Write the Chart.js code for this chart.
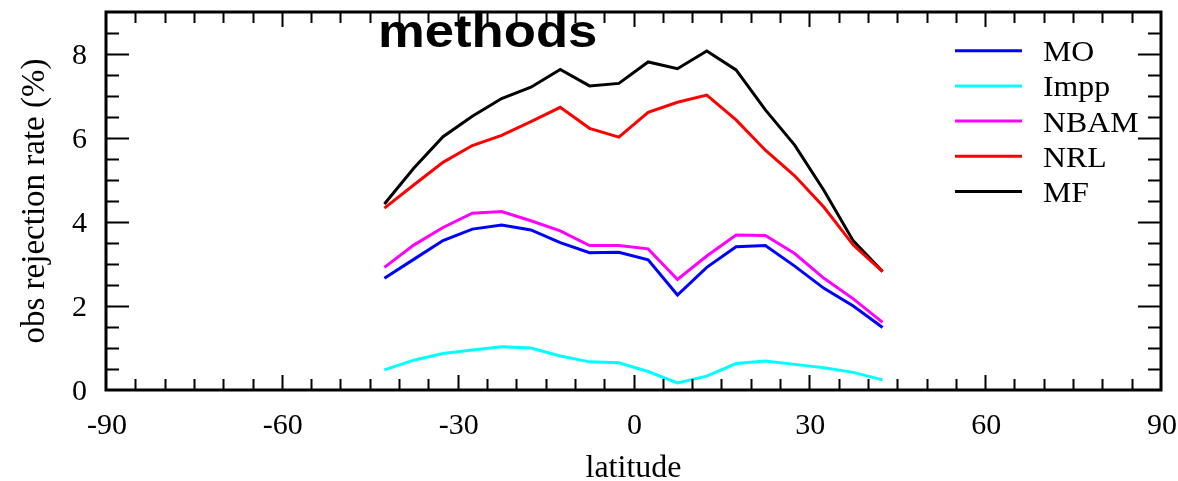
<!DOCTYPE html>
<html><head><meta charset="utf-8">
<script src="https://cdn.jsdelivr.net/npm/chart.js@4.4.0/dist/chart.umd.min.js"></script>
<style>html,body{margin:0;padding:0;background:#fff;overflow:hidden}</style>
</head><body>
<canvas id="c" width="1178" height="481" style="display:block;width:1178px;height:481px"></canvas>
<script>
const latitudes = [-42.5,-37.5,-32.5,-27.5,-22.5,-17.5,-12.5,-7.5,-2.5,2.5,7.5,12.5,17.5,22.5,27.5,32.5,37.5,42.5];
const MO   = [2.66,3.11,3.56,3.83,3.93,3.81,3.51,3.27,3.28,3.10,2.26,2.92,3.41,3.44,2.95,2.42,2.00,1.49];
const Impp = [0.48,0.71,0.87,0.95,1.03,1.00,0.81,0.67,0.65,0.44,0.17,0.33,0.63,0.69,0.61,0.53,0.42,0.24];
const NBAM = [2.92,3.45,3.87,4.21,4.25,4.03,3.79,3.44,3.44,3.36,2.63,3.19,3.69,3.68,3.25,2.66,2.17,1.61];
const NRL  = [4.33,4.88,5.42,5.82,6.06,6.39,6.73,6.23,6.02,6.61,6.85,7.02,6.43,5.71,5.10,4.35,3.45,2.82];
const MF   = [4.43,5.28,6.03,6.52,6.94,7.21,7.63,7.24,7.30,7.81,7.65,8.07,7.62,6.67,5.83,4.75,3.55,2.82];
const seriesNames = ['MO','Impp','NBAM','NRL','MF'];
const seriesValues = [MO, Impp, NBAM, NRL, MF];
const seriesColors = ['#0000ff','#00ffff','#ff00ff','#ff0000','#000000'];
const xTickValues = [-90,-60,-30,0,30,60,90];
const yTickValues = [0,2,4,6,8];
const xRange = [-90, 90];
const yRange = [0, 9];
const xMinorStep = 5;
const yMinorStep = 0.5;
const titleText = 'methods';
const xTitle = 'latitude';
const yTitle = 'obs rejection rate (%)';

const datasets = seriesNames.map((n,i)=>({
  label: n,
  data: latitudes.map((x,j)=>({x:x, y:seriesValues[i][j]})),
  borderColor: seriesColors[i],
  backgroundColor: seriesColors[i],
  borderWidth: 3,
  pointRadius: 0,
  tension: 0,
  fill: false
}));

const serif = "'Liberation Serif','DejaVu Serif',serif";

const framePlugin = {
  id: 'frame',
  afterDraw(chart) {
    const ctx = chart.ctx;
    const a = chart.chartArea;
    const xs = chart.scales.x, ys = chart.scales.y;
    ctx.save();
    ctx.strokeStyle = '#000';
    ctx.lineWidth = 2;
    ctx.beginPath();
    for (let v = xRange[0]; v <= xRange[1] + 1e-9; v += xMinorStep) {
      if (v === xRange[0] || v === xRange[1]) continue;
      const major = xTickValues.includes(v);
      const len = major ? 15 : 11;
      const px = Math.round(xs.getPixelForValue(v)) + 0.5;
      ctx.moveTo(px, a.bottom); ctx.lineTo(px, a.bottom - len);
      ctx.moveTo(px, a.top); ctx.lineTo(px, a.top + len);
    }
    for (let v = yRange[0]; v <= yRange[1] + 1e-9; v += yMinorStep) {
      if (v === yRange[0] || v === yRange[1]) continue;
      const major = yTickValues.includes(v);
      const len = major ? 23 : 13;
      const py = Math.round(ys.getPixelForValue(v)) + 0.5;
      ctx.moveTo(a.left, py); ctx.lineTo(a.left + len, py);
      ctx.moveTo(a.right, py); ctx.lineTo(a.right - len, py);
    }
    ctx.stroke();
    ctx.lineWidth = 3;
    ctx.strokeRect(a.left, a.top, a.right - a.left, a.bottom - a.top);

    const rowY0 = 50.7, rowDy = 35.2;
    chart.data.datasets.forEach((ds, i) => {
      const y = rowY0 + i * rowDy;
      ctx.strokeStyle = ds.borderColor;
      ctx.lineWidth = 3;
      ctx.beginPath();
      ctx.moveTo(955, y); ctx.lineTo(1022, y);
      ctx.stroke();
      ctx.fillStyle = '#000';
      ctx.font = "30px " + serif;
      ctx.textBaseline = 'alphabetic';
      ctx.textAlign = 'left';
      ctx.save();
      ctx.translate(1043, y + 10.5);
      ctx.scale(1.06, 1);
      ctx.fillText(ds.label, 0, 0);
      ctx.restore();
    });

    ctx.save();
    ctx.fillStyle = '#000';
    ctx.font = "bold 47px 'Liberation Sans', Arial, sans-serif";
    ctx.textBaseline = 'alphabetic';
    ctx.textAlign = 'left';
    ctx.translate(378, 47);
    ctx.scale(1.12, 1);
    ctx.fillText(titleText, 0, 0);
    ctx.restore();
    ctx.restore();
  }
};

new Chart(document.getElementById('c'), {
  type: 'line',
  data: { datasets },
  options: {
    responsive: false,
    animation: false,
    devicePixelRatio: 1,
    layout: { padding: { top: 12, right: 17, left: 0, bottom: 0 } },
    plugins: { legend: { display: false }, tooltip: { enabled: false } },
    scales: {
      x: {
        type: 'linear',
        min: xRange[0], max: xRange[1],
        grid: { display: false, drawTicks: false },
        border: { display: false },
        ticks: { color: '#000', font: { family: serif, size: 30 }, padding: 18, labelOffset: 1, maxRotation: 0, autoSkip: false, includeBounds: false },
        afterBuildTicks(scale) { scale.ticks = xTickValues.map(v => ({ value: v })); },
        afterFit(scale) { scale.height = 91; scale.paddingLeft = 0; scale.paddingRight = 0; },
        title: { display: true, text: xTitle, color: '#000', font: { family: serif, size: 32, lineHeight: 1 }, padding: { top: 0, bottom: -4 } }
      },
      y: {
        type: 'linear',
        min: yRange[0], max: yRange[1],
        grid: { display: false, drawTicks: false },
        border: { display: false },
        ticks: { color: '#000', font: { family: serif, size: 30 }, padding: 19, labelOffset: 2, includeBounds: false },
        afterBuildTicks(scale) { scale.ticks = yTickValues.map(v => ({ value: v })); },
        afterFit(scale) { scale.width = 106; scale.paddingTop = 0; scale.paddingBottom = 0; },
        title: { display: true, text: yTitle, color: '#000', font: { family: serif, size: 33, lineHeight: 1 }, padding: { top: 19, bottom: 0 } }
      }
    }
  },
  plugins: [framePlugin]
});
</script>
</body></html>
